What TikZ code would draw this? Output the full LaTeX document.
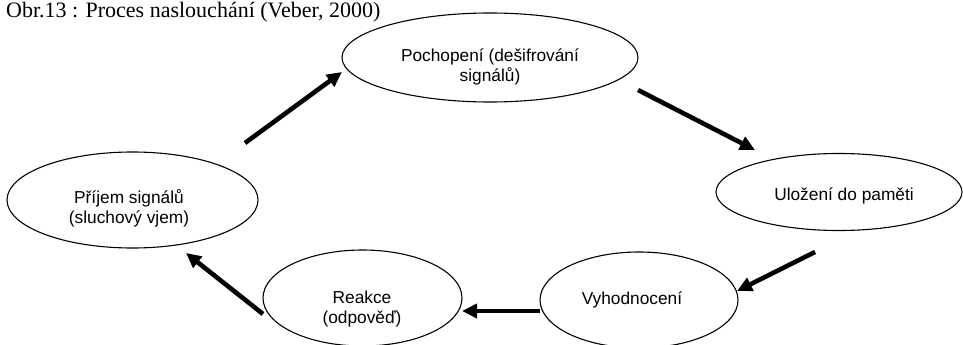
\documentclass[tikz,border=0pt]{standalone}
\usepackage{fontspec}
\setmainfont{Liberation Serif}
\newfontfamily\arialfont{Liberation Sans}
\usetikzlibrary{shapes.geometric,arrows.meta}

\tikzset{
  bubble/.style={ellipse, draw, line width=1.1pt, inner sep=0pt},
  bubbletext/.style={anchor=base, inner sep=0pt,
    font=\arialfont\fontsize{17.3}{20}\selectfont},
  flow/.style={line width=4.6pt,
    -{Triangle[length=15pt,width=14pt]}},
  caption/.style={anchor=base west, inner sep=0pt,
    font=\fontsize{22}{24}\selectfont}
}

\begin{document}
\begin{tikzpicture}[x=1pt,y=-1pt]
  \useasboundingbox (0,0) rectangle (963,345);

  % caption
  \node[caption] (cap) at (6,18) {Obr.13 : Proces naslouchání (Veber, 2000)};

  % stages of the cycle
  \node[bubble, minimum width=296pt, minimum height=89pt] (poch) at (490,57.5) {};
  \node[bubble, minimum width=246pt, minimum height=77pt] (ulozeni) at (839,192) {};
  \node[bubble, minimum width=198pt, minimum height=96pt] (vyh) at (639,300) {};
  \node[bubble, minimum width=199pt, minimum height=96pt] (reakce) at (362.5,298) {};
  \node[bubble, minimum width=251pt, minimum height=96pt] (prijem) at (132.5,200) {};

  \node[bubbletext] (pochT) at (490,62)
    {\begin{tabular}[t]{@{}c@{}}Pochopení (dešifrování\\signálů)\end{tabular}};
  \node[bubbletext] (ulozeniT) at (844,200.7) {Uložení do paměti};
  \node[bubbletext] (vyhT) at (632,304) {Vyhodnocení};
  \node[bubbletext] (reakceT) at (362,303)
    {\begin{tabular}[t]{@{}c@{}}Reakce\\(odpověď)\end{tabular}};
  \node[bubbletext] (prijemT) at (129,203)
    {\begin{tabular}[t]{@{}c@{}}Příjem signálů\\(sluchový vjem)\end{tabular}};

  % arrow ends
  \coordinate (a1s) at (245,143);  \coordinate (a1e) at (342,72);
  \coordinate (a2s) at (638,90);   \coordinate (a2e) at (755,150);
  \coordinate (a3s) at (815,252);  \coordinate (a3e) at (737,291);
  \coordinate (a4s) at (540,311);  \coordinate (a4e) at (462,311);
  \coordinate (a5s) at (263,314);  \coordinate (a5e) at (186,253);

  \draw[flow] (a1s) -- (a1e);
  \draw[flow] (a2s) -- (a2e);
  \draw[flow] (a3s) -- (a3e);
  \draw[flow] (a4s) -- (a4e);
  \draw[flow] (a5s) -- (a5e);
\end{tikzpicture}
\end{document}
